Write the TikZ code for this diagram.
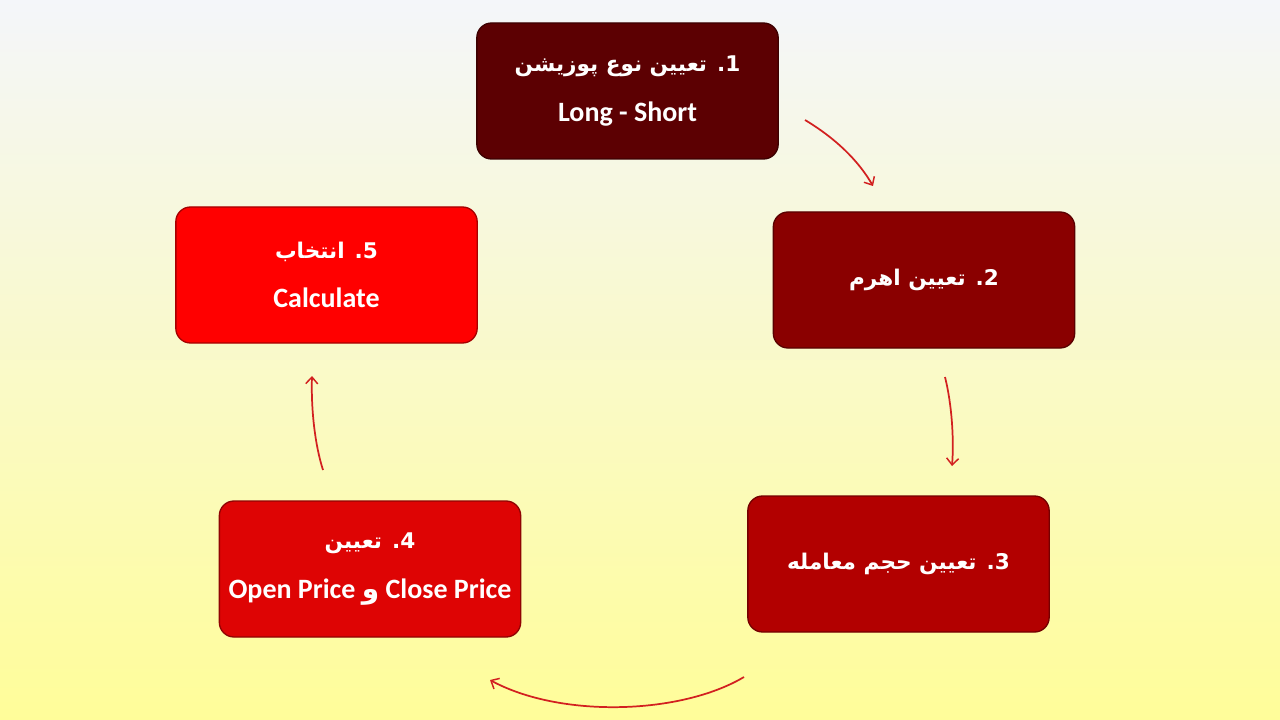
\documentclass[tikz,border=0pt]{standalone}
\usepackage{fontspec}
\usetikzlibrary{arrows.meta}
\TeXXeTstate=1
\newfontfamily\fafont[Script=Arabic]{DejaVu Sans}
\newfontfamily\enfont{Carlito}
\newcommand{\fa}[1]{{\fafont\bfseries\fontsize{16.2}{25}\selectfont\beginR #1\endR}}
\newcommand{\en}[1]{{\enfont\bfseries\fontsize{21}{25}\selectfont #1}}

\definecolor{bgtop}{RGB}{244,246,250}
\definecolor{bgbot}{RGB}{255,253,153}
\definecolor{stepa}{RGB}{92,0,2}
\definecolor{stepb}{RGB}{138,0,0}
\definecolor{stepc}{RGB}{178,0,0}
\definecolor{stepd}{RGB}{222,4,4}
\definecolor{stepe}{RGB}{255,0,0}
\definecolor{arrowred}{RGB}{210,32,32}

\tikzset{every picture/.style={line width=0.75pt}}
\tikzset{
  stepbox/.style={rectangle, rounded corners=11pt, fill=#1, draw=#1!65!black,
    line width=1pt, minimum width=226pt, minimum height=102pt, text=white,
    align=center, inner sep=2pt, font=\fontsize{21}{25}\selectfont},
  cyclearrow/.style={draw=arrowred, line width=1.3pt,
    -{Straight Barb[length=5pt,width=9pt,line width=1.1pt]}}
}

\begin{document}
\begin{tikzpicture}[x=0.75pt,y=0.75pt,yscale=-1,xscale=1]
\useasboundingbox (0,0) rectangle (1280,720);

%Shape: Background
\shade[top color=bgtop, bottom color=bgbot] (0,0) rectangle (1280,720);

%Shape: Step boxes
\node[stepbox=stepa] (s1) at (627.5,91) {\fa{1. تعیین نوع پوزیشن}\\[12pt]\en{Long - Short}};
\node[stepbox=stepb] (s2) at (924,280) {\fa{2. تعیین اهرم}};
\node[stepbox=stepc] (s3) at (898.5,564) {\fa{3. تعیین حجم معامله}};
\node[stepbox=stepd] (s4) at (370,569) {\fa{4. تعیین}\\[12pt]\en{Open Price {\fafont و} Close Price}};
\node[stepbox=stepe] (s5) at (326.5,275) {\fa{5. انتخاب}\\[12pt]\en{Calculate}};

%Straight Lines: arrow ends
\coordinate (a1s) at (805,120);
\coordinate (a1e) at (873,186);
\coordinate (a2s) at (945,377);
\coordinate (a2e) at (952,466);
\coordinate (a3s) at (744,677);
\coordinate (a3e) at (490,680);
\coordinate (a4s) at (323,470);
\coordinate (a4e) at (312,376);

%Curves: cycle arrows
\draw[cyclearrow] (a1s) .. controls (835,138) and (858,160) .. (a1e); % 1 to 2
\draw[cyclearrow] (a2s) .. controls (952,405) and (954,440) .. (a2e); % 2 to 3
\draw[cyclearrow] (a3s) .. controls (680,715) and (560,718) .. (a3e); % 3 to 4
\draw[cyclearrow] (a4s) .. controls (315,445) and (311,410) .. (a4e); % 4 to 5

\end{tikzpicture}
\end{document}
